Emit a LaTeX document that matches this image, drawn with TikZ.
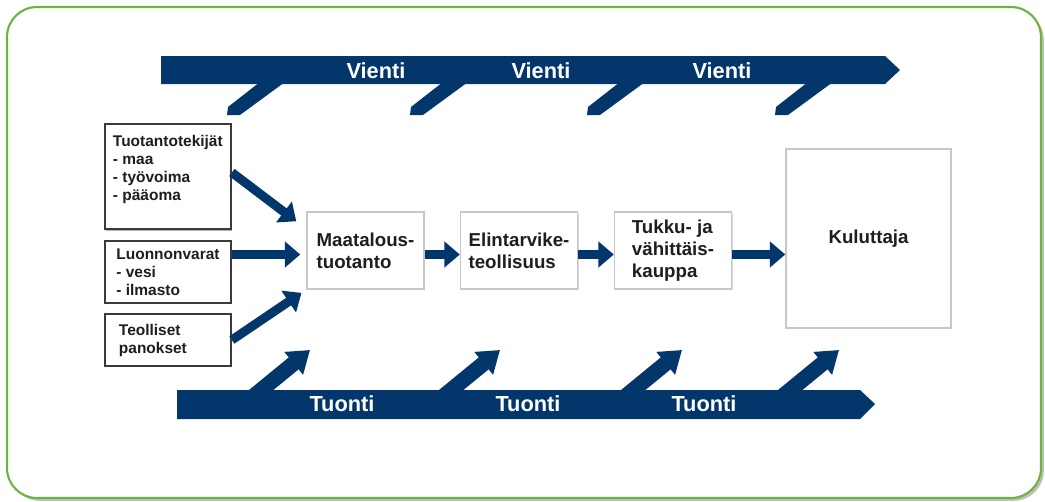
\documentclass[tikz,border=0pt]{standalone}
\usepackage{fontspec}
\setmainfont{Liberation Sans}
\usetikzlibrary{arrows.meta,shadows}
\definecolor{navy}{HTML}{03366B}
\definecolor{framegreen}{HTML}{6DB33F}
\definecolor{inborder}{HTML}{3A3A3A}
\definecolor{mainborder}{HTML}{C4C8CC}
\definecolor{ink}{HTML}{1E1E1E}

\begin{document}
\begin{tikzpicture}[x=0.025cm, y=-0.025cm,
  every node/.style={font=\bfseries, text=ink},
  band/.style={fill=navy},
  bandlabel/.style={text=white, font=\fontsize{15.5}{18}\bfseries\selectfont},
  inbox/.style={draw=inborder, line width=1.2pt, fill=white, inner xsep=0.2cm,
    minimum width=3.15cm, align=left,
    font=\fontsize{11}{12.8}\bfseries\selectfont,
    drop shadow={shadow xshift=1pt, shadow yshift=-1pt, opacity=0.3, fill=black}},
  mainbox/.style={draw=mainborder, line width=1pt, fill=white,
    minimum width=2.925cm, minimum height=1.925cm, align=left,
    font=\fontsize{13.3}{15.5}\bfseries\selectfont,
    drop shadow={shadow xshift=1pt, shadow yshift=-1pt, opacity=0.15, fill=black}},
  flow/.style={navy, line width=6.4pt, -{Triangle[width=18pt,length=11pt]}},
  impfin/.style={navy, line width=11pt, -{Triangle[width=20pt,length=15pt]}}]

  \useasboundingbox (0,0) rectangle (1045,501);
  \draw[framegreen, line width=1.5pt, fill=white, rounded corners=0.75cm,
    drop shadow={shadow xshift=2pt, shadow yshift=-2pt, opacity=0.25, fill=black}]
    (7,7) rectangle (1041,498);

  % vienti
  \foreach \x in {257,440,617,805}
    \fill[band] ({\x+3},82) -- ({\x+28},82) -- ({\x-17},115) -- ({\x-30},115)
      -- ({\x-29},107) -- cycle;
  \fill[band] (161,56) -- (885,56) -- (900,70) -- (885,84) -- (161,84) -- cycle;
  \node[bandlabel] (vienti1) at (376,71) {Vienti};
  \node[bandlabel] (vienti2) at (541,71) {Vienti};
  \node[bandlabel] (vienti3) at (722,71) {Vienti};

  % tuonti
  \foreach \x in {248,438,620,777}
    \draw[impfin] ({\x+1},400) -- ({\x+62},350);
  \fill[band] (177,390) -- (860,390) -- (875,404) -- (860,419) -- (177,419) -- cycle;
  \node[bandlabel] (tuonti1) at (342,404) {Tuonti};
  \node[bandlabel] (tuonti2) at (528,404) {Tuonti};
  \node[bandlabel] (tuonti3) at (704,404) {Tuonti};

  \node[inbox, inner ysep=0.29cm] (tekijat) at (168,176.5)
    {\parbox[c][2.05cm][t]{2.75cm}{\raggedright Tuotantotekijät\\- maa\\- työvoima\\- pääoma}};
  \node[inbox, minimum height=1.55cm] (luonnon) at (168,272)
    {Luonnonvarat\\- vesi\\- ilmasto};
  \node[inbox, minimum height=1.3cm, inner xsep=0.35cm, text width=2.45cm] (teolliset) at (168,340)
    {Teolliset\\panokset};

  \node[mainbox] (maatalous) at (365.5,250.5) {Maatalous-\\tuotanto};
  \node[mainbox] (elintarvike) at (519,250.5) {Elintarvike-\\teollisuus};
  \node[mainbox] (tukku) at (673,250.5) {Tukku- ja\\vähittäis-\\kauppa};
  \node[draw=mainborder, line width=1pt, fill=white, minimum width=4.125cm,
    minimum height=4.475cm, font=\fontsize{13.3}{15.5}\bfseries\selectfont,
    drop shadow={shadow xshift=1pt, shadow yshift=-1pt, opacity=0.15, fill=black}]
    (kuluttaja) at (868.5,238.5) {Kuluttaja};

  \coordinate (luin) at ([shift={(-0.15cm,-0.1cm)}]maatalous.west);
  \coordinate (tk) at ([yshift=-0.1cm]tukku.east);
  \draw[flow] ([yshift=0.1cm]tekijat.east) -- ([shift={(-0.25cm,-0.25cm)}]maatalous.north west);
  \draw[flow] (luonnon.east |- luin) -- (luin);
  \draw[flow] (teolliset.east) -- ([shift={(-0.12cm,-0.08cm)}]maatalous.south west);
  \draw[flow] ([yshift=-0.1cm]maatalous.east) -- ([yshift=-0.1cm]elintarvike.west);
  \draw[flow] ([yshift=-0.1cm]elintarvike.east) -- ([yshift=-0.1cm]tukku.west);
  \draw[flow] (tk) -- (tk -| kuluttaja.west);
\end{tikzpicture}
\end{document}
